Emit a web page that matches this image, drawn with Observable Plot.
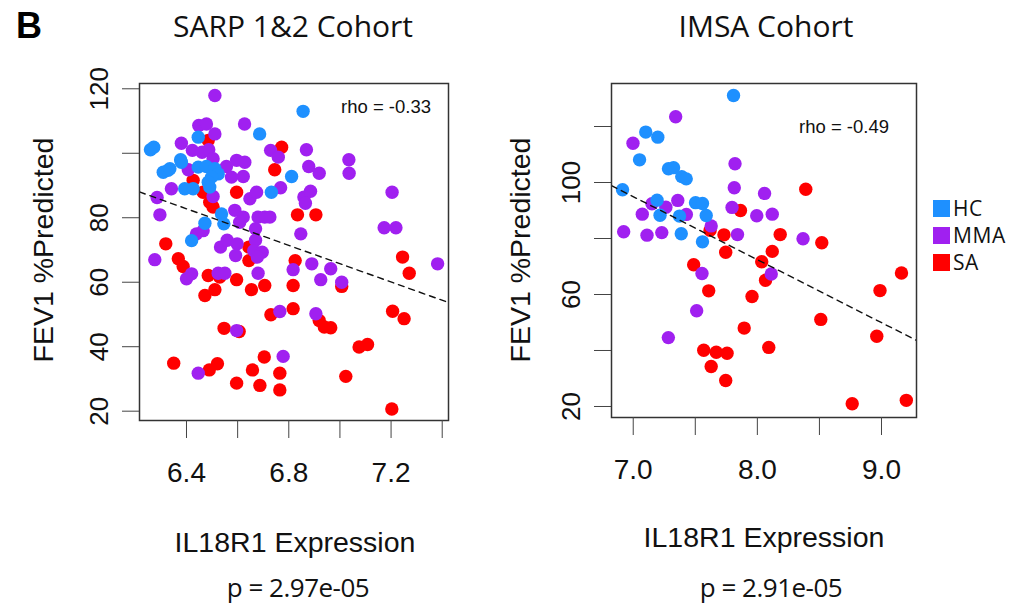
<!DOCTYPE html>
<html><head><meta charset="utf-8">
<script src="https://cdn.jsdelivr.net/npm/d3@7"></script>
<script src="https://cdn.jsdelivr.net/npm/@observablehq/plot@0.6"></script>
<style>
body{margin:0;background:#fff;}
#fig{position:relative;width:1018px;height:604px;overflow:hidden;background:#fff;}
#fig svg{position:absolute;top:0;}
.t{position:absolute;white-space:nowrap;line-height:1;transform:translate(-50%,-50%);color:#111;}
.arial{font-family:"Liberation Sans",Arial,sans-serif;}
.myr{font-family:"Open Sans",sans-serif;}
</style></head><body><div id="fig"></div>
<script>
// ---------- data ----------
const groups = ["HC", "MMA", "SA"];
const groupColors = ["#1E90FF", "#A020F0", "#FF0000"];

// SARP 1&2 cohort
const sarpHC_x = [6.856,6.446,6.686,6.259,6.272,6.377,6.380,6.309,6.328,6.335,6.446,6.478,6.511,6.524,6.498,6.485,6.491,6.811,6.393,6.426,6.732,6.537,6.546,6.472,6.420];
const sarpHC_y = [113.0,105.0,106.0,101.1,101.9,98.0,97.2,94.1,94.7,95.2,95.7,95.9,95.2,93.6,92.6,91.0,89.5,92.8,89.0,89.0,87.9,81.2,78.1,78.3,72.9];
const sarpMMA_x = [6.511,6.448,6.478,6.627,6.511,6.380,6.729,6.759,6.869,6.423,6.461,6.487,6.504,7.035,6.596,6.628,6.878,6.919,7.036,6.407,6.556,6.576,6.622,6.341,6.504,6.648,6.674,6.768,6.859,6.885,6.865,7.204,6.285,6.296,6.589,6.622,6.608,6.680,6.706,6.726,6.670,6.439,6.465,6.847,7.173,7.219,6.533,6.559,6.598,6.592,6.670,6.663,6.696,6.677,6.276,6.890,7.382,6.964,6.400,6.420,6.524,6.550,6.680,6.817,6.925,7.007,6.765,6.906,6.596,6.778,6.446];
const sarpMMA_y = [117.9,108.6,109.1,109.1,106.0,103.1,100.9,98.8,101.1,100.9,100.3,101.1,98.3,98.0,97.8,97.2,95.9,93.8,93.8,94.9,95.9,92.6,92.8,89.0,86.6,85.9,87.9,89.3,86.4,88.2,84.5,87.9,86.3,80.9,82.3,80.2,78.6,80.2,80.2,80.2,76.6,75.0,76.0,75.0,76.9,76.9,70.9,73.0,71.9,68.3,73.0,69.8,69.3,67.8,67.0,65.7,65.7,64.2,61.1,62.6,62.8,62.8,62.8,63.9,60.8,60.0,50.9,50.2,45.0,37.0,31.8];
const sarpSA_x = [6.485,6.772,6.745,6.426,6.465,6.491,6.504,6.596,6.834,6.906,6.319,6.644,6.644,6.368,6.387,6.825,7.245,7.271,6.485,6.530,6.596,7.007,6.472,6.511,6.654,6.706,6.817,6.817,6.730,6.919,6.939,6.964,7.206,7.251,6.547,6.606,7.075,7.108,6.350,6.489,6.521,6.704,6.658,6.765,6.596,6.687,6.765,7.023,7.203];
const sarpSA_y = [104.0,101.9,94.9,91.6,87.9,84.8,83.3,87.9,80.9,80.9,71.9,70.9,66.7,67.3,64.9,66.7,67.8,62.8,62.1,61.6,60.8,58.7,55.9,57.7,57.7,59.0,59.0,51.8,49.9,48.1,46.1,45.9,51.0,48.7,45.7,44.7,39.9,40.7,34.9,32.8,34.7,36.8,32.8,31.8,28.7,28.0,26.6,30.8,20.7];
const sarpFit_x = [6.2162, 7.4246];
const sarpFit_y = [88.0, 53.7];

// IMSA cohort
const imsaHC_x = [7.808,7.101,7.198,7.051,7.284,7.325,7.391,7.427,6.914,7.192,7.216,7.373,7.502,7.558,7.588,7.387,7.558];
const imsaHC_y = [131.1,118.0,116.2,108.1,104.9,105.3,102.1,101.3,97.4,93.7,88.3,88.0,92.8,92.5,88.2,81.7,78.8];
const imsaMMA_x = [7.342,6.998,7.820,7.814,8.058,7.151,7.263,7.359,7.073,7.428,7.796,7.995,6.923,7.111,7.230,7.628,7.840,7.554,7.511,7.283,8.120,8.368,8.112];
const imsaMMA_y = [123.5,114.0,106.7,98.1,96.1,92.4,91.2,93.6,88.7,88.6,91.1,88.1,82.4,81.2,82.1,84.5,81.4,67.5,54.2,44.6,88.7,79.9,67.3];
const imsaSA_x = [7.864,7.619,7.731,7.745,7.487,7.608,7.957,7.894,7.568,7.669,7.756,7.628,7.745,8.035,8.066,8.092,8.390,8.184,8.519,8.120,8.511,9.161,8.988,8.962,8.764,9.200];
const imsaSA_y = [90.0,82.9,81.3,75.1,70.6,61.3,59.3,48.0,40.1,39.4,39.0,34.3,29.3,71.7,65.1,41.1,97.6,81.4,78.5,75.4,51.1,67.7,61.4,45.1,21.0,22.2];
const imsaFit_x = [6.825, 9.282];
const imsaFit_y = [98.9, 43.6];

// axes
const sarpXTicks = [6.4, 6.6, 6.8, 7.0, 7.2, 7.4];
const sarpXLabels = ["6.4", "", "6.8", "", "7.2", ""];
const sarpYTicks = [20, 40, 60, 80, 100, 120];
const sarpYLabels = ["20", "40", "60", "80", "", "120"];
const imsaXTicks = [7.0, 7.5, 8.0, 8.5, 9.0];
const imsaXLabels = ["7.0", "", "8.0", "", "9.0"];
const imsaYTicks = [20, 40, 60, 80, 100, 120];
const imsaYLabels = ["20", "", "60", "", "100", ""];

const titles = ["SARP 1&2 Cohort", "IMSA Cohort"];
const rhoTexts = ["rho = -0.33", "rho = -0.49"];
const pTexts = ["p = 2.97e-05", "p = 2.91e-05"];
const xTitle = "IL18R1 Expression";
const yTitle = "FEV1 %Predicted";
const panelLetter = "B";

// ---------- drawing ----------
const fig = document.getElementById("fig");

function rowsOf(xs, ys, g) { return xs.map((x, i) => ({x, y: ys[i], g})); }

function panel(o) {
  const rows = [
    ...rowsOf(o.sa[0], o.sa[1], "SA"),
    ...rowsOf(o.mma[0], o.mma[1], "MMA"),
    ...rowsOf(o.hc[0], o.hc[1], "HC")
  ];
  const fit = rowsOf(o.fit[0], o.fit[1], "fit");
  const fmt = new Map(o.xTicks.map((t, i) => [t, o.xLabels[i]]));
  const ylab = o.yTicks.map((t, i) => ({v: t, s: o.yLabels[i]})).filter(d => d.s);
  const svg = Plot.plot({
    width: o.width, height: 604,
    marginLeft: o.ml, marginRight: o.mr, marginTop: o.mt, marginBottom: o.mb,
    style: {background: "transparent", overflow: "visible", fontFamily: "Liberation Sans, Arial, sans-serif", fontSize: "26px", color: "#222"},
    x: {domain: o.xDomain, axis: null},
    y: {domain: o.yDomain, axis: null},
    color: {domain: groups, range: groupColors},
    marks: [
      Plot.dot(rows, {x: "x", y: "y", fill: "g", r: 6.7}),
      Plot.line(fit, {x: "x", y: "y", stroke: "#111", strokeWidth: 1.4, strokeDasharray: "6,5", clip: true}),
      Plot.frame({stroke: "#333", strokeWidth: 1.5}),
      Plot.axisX({ticks: o.xTicks, label: null, tickSize: 18, tickPadding: 24, tickFormat: d => fmt.get(d) ?? "", fontSize: 28, stroke: "#444", fill: "#111"}),
      Plot.axisY({ticks: o.yTicks, label: null, tickSize: 17, tickFormat: () => "", stroke: "#444"}),
      Plot.text(ylab, {y: "v", text: "s", frameAnchor: "left", dx: -40, rotate: -90, fontSize: 26, textAnchor: "middle", lineAnchor: "middle", fill: "#111"})
    ]
  });
  svg.style.left = o.left + "px";
  fig.appendChild(svg);
}

panel({
  hc: [sarpHC_x, sarpHC_y], mma: [sarpMMA_x, sarpMMA_y], sa: [sarpSA_x, sarpSA_y], fit: [sarpFit_x, sarpFit_y],
  xDomain: [6.2162, 7.4246], yDomain: [17.11, 121.64],
  xTicks: sarpXTicks, xLabels: sarpXLabels, yTicks: sarpYTicks, yLabels: sarpYLabels,
  width: 480, ml: 139, mr: 32, mt: 83, mb: 184, left: 0
});
panel({
  hc: [imsaHC_x, imsaHC_y], mma: [imsaMMA_x, imsaMMA_y], sa: [imsaSA_x, imsaSA_y], fit: [imsaFit_x, imsaFit_y],
  xDomain: [6.825, 9.282], yDomain: [16.07, 135.36],
  xTicks: imsaXTicks, xLabels: imsaXLabels, yTicks: imsaYTicks, yLabels: imsaYLabels,
  width: 538, ml: 131, mr: 102, mt: 83, mb: 187, left: 480
});

function txt(s, cx, cy, cls, size, extra) {
  const d = document.createElement("div");
  d.className = "t " + cls;
  d.textContent = s;
  d.style.left = cx + "px";
  d.style.top = cy + "px";
  d.style.fontSize = size + "px";
  if (extra) Object.assign(d.style, extra);
  fig.appendChild(d);
  return d;
}
txt(panelLetter, 29, 26, "arial", 36, {fontWeight: "bold", color: "#000"});
txt(titles[0], 293, 26, "myr", 30);
txt(titles[1], 766, 26, "myr", 30);
txt(rhoTexts[0], 386, 106.5, "arial", 18.5);
txt(rhoTexts[1], 844, 127, "arial", 18.5);
txt(xTitle, 295, 542, "arial", 28.5);
txt(xTitle, 764, 537, "arial", 28.5);
txt(yTitle, 43, 250, "arial", 28.5, {transform: "translate(-50%,-50%) rotate(-90deg)"});
txt(yTitle, 520, 250, "arial", 28.5, {transform: "translate(-50%,-50%) rotate(-90deg)"});
txt(pTexts[0], 298, 587, "myr", 26, {letterSpacing: "-0.5px"});
txt(pTexts[1], 771, 587, "myr", 26, {letterSpacing: "-0.5px"});

// legend
groups.forEach((g, i) => {
  const cy = 208 + i * 27;
  const sq = document.createElement("div");
  Object.assign(sq.style, {position: "absolute", left: "933px", top: (cy - 8.5) + "px", width: "17px", height: "17px", background: groupColors[i]});
  fig.appendChild(sq);
  txt(g, 953, cy, "myr", 21, {transform: "translate(0,-50%)", letterSpacing: "0.6px"});
});
</script></body></html>
